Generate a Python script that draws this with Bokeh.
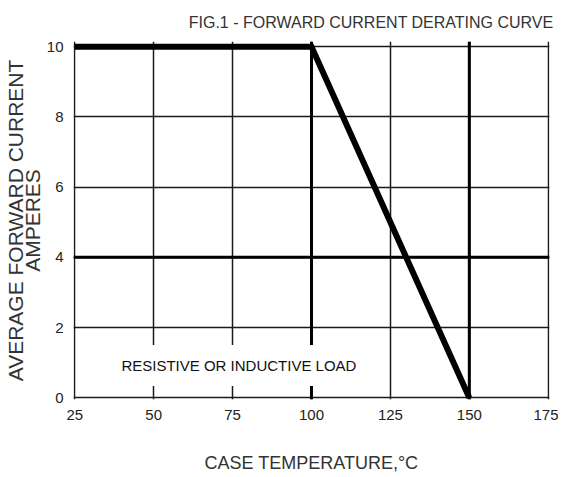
from bokeh.plotting import figure
from bokeh.models import Range1d, FixedTicker, Span, Label
from bokeh.embed import file_html
from bokeh.resources import INLINE

# data
x_ticks = [25, 50, 75, 100, 125, 150, 175]
y_ticks = [0, 2, 4, 6, 8, 10]
thick_x = [100, 150]
thick_y = [4]
curve_temp = [25, 100, 150]
curve_current = [10, 10, 0]

FONT = "Liberation Sans, Arial, sans-serif"

p = figure(width=558, height=476,
           x_range=Range1d(24.6, 175.4), y_range=Range1d(-0.05, 10.15),
           output_backend="svg", toolbar_location=None,
           min_border_left=73, min_border_right=9,
           min_border_top=41, min_border_bottom=77,
           title="FIG.1 - FORWARD CURRENT DERATING CURVE")

p.title.text_font = FONT
p.title.text_font_size = "16px"
p.title.text_font_style = "normal"
p.title.text_color = "#333333"
p.title.align = "right"
p.title.vertical_align = "top"
p.title.offset = -4
p.title.standoff = 17

p.outline_line_color = None
p.background_fill_color = "white"

# grids
p.xgrid.ticker = FixedTicker(ticks=x_ticks)
p.ygrid.ticker = FixedTicker(ticks=y_ticks)
for g in (p.xgrid, p.ygrid):
    g.grid_line_color = "#1a1a1a"
    g.grid_line_width = 1.5
    g.grid_line_alpha = 1.0

for xv in thick_x:
    p.add_layout(Span(location=xv, dimension="height", line_color="black", line_width=3))
for yv in thick_y:
    p.add_layout(Span(location=yv, dimension="width", line_color="black", line_width=3))

# axes
p.xaxis.ticker = FixedTicker(ticks=x_ticks)
p.yaxis.ticker = FixedTicker(ticks=y_ticks)
for ax in (p.xaxis[0], p.yaxis[0]):
    ax.axis_line_color = None
    ax.major_tick_line_color = None
    ax.minor_tick_line_color = None
    ax.major_tick_out = 0
    ax.major_tick_in = 0
    ax.minor_tick_out = 0
    ax.minor_tick_in = 0
    ax.major_label_text_font = FONT
    ax.major_label_text_font_size = "15px"
    ax.major_label_text_color = "#222222"
    ax.axis_label_text_font_style = "normal"
    ax.axis_label_text_color = "#333333"
    ax.axis_label_text_font = FONT

p.xaxis.major_label_standoff = 10
p.xaxis.axis_label = "CASE TEMPERATURE,°C"
p.xaxis.axis_label_text_font_size = "18px"
p.xaxis.axis_label_standoff = 30

p.yaxis.major_label_standoff = 10
p.yaxis.axis_label = "AVERAGE FORWARD CURRENT\nAMPERES"
p.yaxis.axis_label_text_font_size = "21px"
p.yaxis.axis_label_text_line_height = 0.75
p.yaxis.axis_label_standoff = 0

# curve
p.line(curve_temp, curve_current, line_color="black", line_width=6,
       line_join="miter", line_cap="butt")

# annotation
p.add_layout(Label(x=77, y=0.92, text="RESISTIVE OR INDUCTIVE LOAD",
                   text_align="center", text_baseline="middle",
                   text_font=FONT, text_font_size="15px", text_color="#111111",
                   background_fill_color="white", padding=12))

open("out.html", "w").write(file_html(p, INLINE))
